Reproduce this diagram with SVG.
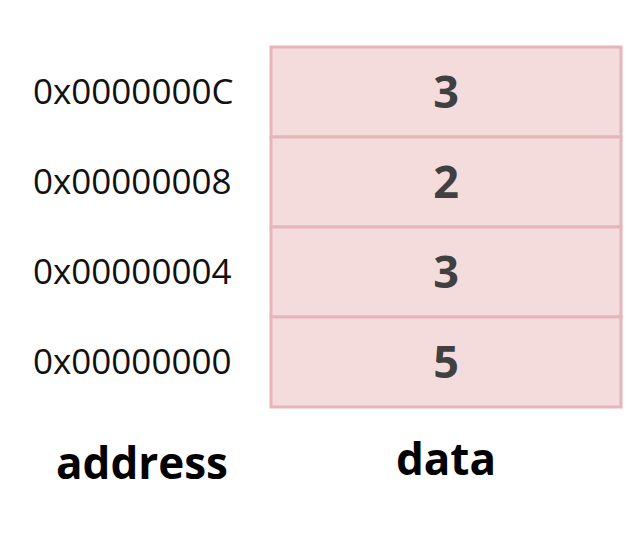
<svg xmlns="http://www.w3.org/2000/svg" width="643" height="547" viewBox="0 0 643 547">
<style>
.cell{fill:#f4dcdd;stroke:#e7b4b8;stroke-width:3}
.num{font-family:"Open Sans","Noto Sans",sans-serif;font-weight:bold;font-size:45px;fill:#404040;text-anchor:middle}
.addr{font-family:"Open Sans","Noto Sans",sans-serif;font-size:35px;fill:#111;text-anchor:start}
.lbl{font-family:"Open Sans","Noto Sans",sans-serif;font-weight:bold;font-size:44px;fill:#000;text-anchor:middle}
</style>
<rect width="643" height="547" fill="#fff"/>
<g id="row3"><rect class="cell" x="271" y="47" width="350" height="90"/><text class="num" x="446" y="108">3</text><text class="addr" x="33" y="104">0x0000000C</text></g>
<g id="row2"><rect class="cell" x="271" y="137" width="350" height="90"/><text class="num" x="446" y="198">2</text><text class="addr" x="33" y="194">0x00000008</text></g>
<g id="row1"><rect class="cell" x="271" y="227" width="350" height="90"/><text class="num" x="446" y="288">3</text><text class="addr" x="33" y="284">0x00000004</text></g>
<g id="row0"><rect class="cell" x="271" y="317" width="350" height="90"/><text class="num" x="446" y="378">5</text><text class="addr" x="33" y="374">0x00000000</text></g>
<g id="labels"><text class="lbl" x="142" y="479">address</text><text class="lbl" x="446" y="475">data</text></g>
</svg>
